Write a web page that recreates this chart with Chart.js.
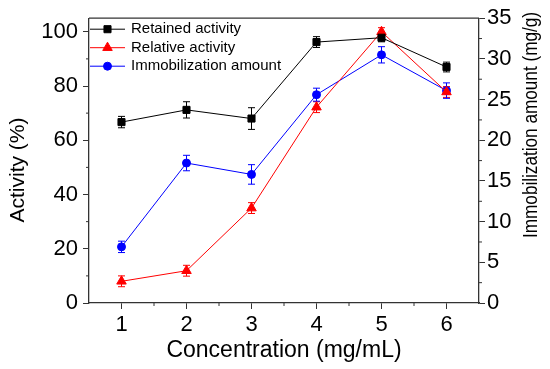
<!DOCTYPE html>
<html>
<head>
<meta charset="utf-8">
<script src="https://cdn.jsdelivr.net/npm/chart.js@4.4.1/dist/chart.umd.min.js"></script>
<style>
  html, body { margin: 0; padding: 0; background: #fff; }
  #wrap { width: 550px; height: 369px; }
</style>
</head>
<body>
<div id="wrap"><canvas id="chart" width="550" height="369"></canvas></div>
<script>
// ---- data ----
const concentration = [1, 2, 3, 4, 5, 6];

const retained    = [66.7, 71.2, 68.0, 96.2, 97.8, 87.0];
const retainedErr = [2.1, 3.0, 4.0, 2.0, 1.5, 1.8];

const relative    = [8.0, 11.9, 35.0, 72.2, 100.0, 77.8];
const relativeErr = [2.0, 2.0, 2.0, 2.0, 1.5, 2.0];

const amount      = [6.9, 17.2, 15.8, 25.6, 30.5, 26.1];
const amountErr   = [0.7, 0.95, 1.2, 0.8, 1.0, 0.95];

// tick values
const xTicks = [1, 2, 3, 4, 5, 6];
const xMinorTicks = [1.5, 2.5, 3.5, 4.5, 5.5];
const activityTicks = [0, 20, 40, 60, 80, 100];
const activityMinorTicks = [10, 30, 50, 70, 90];
const amountTicks = [0, 5, 10, 15, 20, 25, 30, 35];
const amountMinorTicks = [2.5, 7.5, 12.5, 17.5, 22.5, 27.5, 32.5];

const FONT = "'Liberation Sans', Arial, sans-serif";
const AXIS_COLOR = '#333';

function points(ys) {
    return concentration.map((x, i) => ({ x: x, y: ys[i] }));
}

// error bars, drawn through each dataset's own y scale
const errorBarPlugin = {
    id: 'errorBars',
    beforeDatasetsDraw(chart) {
        const ctx = chart.ctx;
        chart.data.datasets.forEach((ds, i) => {
            const meta = chart.getDatasetMeta(i);
            const yScale = chart.scales[ds.yAxisID];
            ctx.save();
            ctx.strokeStyle = ds.borderColor;
            ctx.lineWidth = 1;
            meta.data.forEach((pt, j) => {
                const v = ds.data[j].y;
                const e = ds.errors[j];
                const yt = yScale.getPixelForValue(v + e);
                const yb = yScale.getPixelForValue(v - e);
                ctx.beginPath();
                ctx.moveTo(pt.x, yt); ctx.lineTo(pt.x, yb);
                ctx.moveTo(pt.x - 3.5, yt); ctx.lineTo(pt.x + 3.5, yt);
                ctx.moveTo(pt.x - 3.5, yb); ctx.lineTo(pt.x + 3.5, yb);
                ctx.stroke();
            });
            ctx.restore();
        });
    }
};

// top frame line + minor ticks
const framePlugin = {
    id: 'frame',
    afterDraw(chart) {
        const ctx = chart.ctx;
        const area = chart.chartArea;
        const { x, y, y2 } = chart.scales;
        ctx.save();
        ctx.strokeStyle = AXIS_COLOR;
        ctx.lineWidth = 1.3;
        ctx.beginPath();
        ctx.moveTo(area.left, area.top);
        ctx.lineTo(area.right, area.top);
        ctx.stroke();

        ctx.lineWidth = 1;
        ctx.beginPath();
        xMinorTicks.forEach(v => {
            const px = x.getPixelForValue(v);
            ctx.moveTo(px, area.bottom);
            ctx.lineTo(px, area.bottom + 3);
        });
        activityMinorTicks.forEach(v => {
            const py = y.getPixelForValue(v);
            ctx.moveTo(area.left, py);
            ctx.lineTo(area.left - 3, py);
        });
        amountMinorTicks.forEach(v => {
            const py = y2.getPixelForValue(v);
            ctx.moveTo(area.right, py);
            ctx.lineTo(area.right + 3, py);
        });
        ctx.stroke();
        ctx.restore();
    }
};

// legend inside the plot, top-left
const insideLegendPlugin = {
    id: 'insideLegend',
    afterDraw(chart) {
        const ctx = chart.ctx;
        const area = chart.chartArea;
        ctx.save();
        ctx.font = '15px ' + FONT;
        ctx.textBaseline = 'middle';
        chart.data.datasets.forEach((ds, i) => {
            const yy = area.top + 11 + i * 18.5;
            const x0 = area.left + 1;
            const x1 = area.left + 36;
            ctx.strokeStyle = ds.borderColor;
            ctx.fillStyle = ds.backgroundColor;
            ctx.lineWidth = 1;
            ctx.beginPath();
            ctx.moveTo(x0, yy);
            ctx.lineTo(x1, yy);
            ctx.stroke();
            Chart.helpers.drawPoint(ctx, {
                pointStyle: ds.pointStyle,
                radius: ds.pointRadius,
                rotation: 0,
                borderWidth: 1
            }, (x0 + x1) / 2, yy);
            ctx.fillStyle = '#000';
            ctx.fillText(ds.label, area.left + 42, yy);
        });
        ctx.restore();
    }
};

// y axis titles (the right one reads bottom to top, narrow)
const axisTitlePlugin = {
    id: 'axisTitles',
    afterDraw(chart) {
        const ctx = chart.ctx;
        ctx.save();
        ctx.fillStyle = '#000';
        ctx.textAlign = 'center';
        ctx.textBaseline = 'middle';
        ctx.font = '21px ' + FONT;

        ctx.save();
        ctx.translate(18, 170);
        ctx.rotate(-Math.PI / 2);
        ctx.fillText('Activity (%)', 0, 0);
        ctx.restore();

        ctx.save();
        ctx.translate(531, 125);
        ctx.rotate(-Math.PI / 2);
        ctx.fillText('Immobilization amount (mg/g)', 0, 0, 226);
        ctx.restore();

        ctx.restore();
    }
};

const tickFont = { family: FONT, size: 22 };

new Chart(document.getElementById('chart'), {
    type: 'line',
    data: {
        datasets: [{
            label: 'Retained activity',
            data: points(retained),
            errors: retainedErr,
            yAxisID: 'y',
            borderColor: '#000000',
            backgroundColor: '#000000',
            borderWidth: 1,
            pointStyle: 'rect',
            pointRadius: 5,
            pointBorderWidth: 1
        }, {
            label: 'Relative activity',
            data: points(relative),
            errors: relativeErr,
            yAxisID: 'y',
            borderColor: '#ff0000',
            backgroundColor: '#ff0000',
            borderWidth: 1,
            pointStyle: 'triangle',
            pointRadius: 5.5,
            pointBorderWidth: 1
        }, {
            label: 'Immobilization amount',
            data: points(amount),
            errors: amountErr,
            yAxisID: 'y2',
            borderColor: '#0000ff',
            backgroundColor: '#0000ff',
            borderWidth: 1,
            pointStyle: 'circle',
            pointRadius: 4,
            pointBorderWidth: 1
        }]
    },
    options: {
        responsive: false,
        animation: false,
        layout: { padding: { top: 16, left: 0, right: 0, bottom: 0 } },
        plugins: {
            legend: { display: false },
            tooltip: { enabled: false }
        },
        scales: {
            x: {
                type: 'linear',
                min: 0.5,
                max: 6.5,
                afterBuildTicks: s => { s.ticks = xTicks.map(v => ({ value: v })); },
                afterFit: s => { s.height = 66; },
                grid: { drawOnChartArea: false, tickLength: 6, tickColor: AXIS_COLOR, tickWidth: 1 },
                border: { color: AXIS_COLOR, width: 1.3 },
                ticks: { color: '#000', font: tickFont, padding: 3, autoSkip: false, maxRotation: 0 },
                title: {
                    display: true,
                    text: 'Concentration (mg/mL)',
                    color: '#000',
                    font: { family: FONT, size: 23 },
                    padding: { top: 0, bottom: 5 }
                }
            },
            y: {
                position: 'left',
                min: 0,
                max: 105,
                afterBuildTicks: s => { s.ticks = activityTicks.map(v => ({ value: v })); },
                afterFit: s => { s.width = 89; },
                grid: { drawOnChartArea: false, tickLength: 6, tickColor: AXIS_COLOR, tickWidth: 1 },
                border: { color: AXIS_COLOR, width: 1.3 },
                ticks: { color: '#000', font: tickFont, padding: 5, autoSkip: false }
            },
            y2: {
                position: 'right',
                min: 0,
                max: 35,
                afterBuildTicks: s => { s.ticks = amountTicks.map(v => ({ value: v })); },
                afterFit: s => { s.width = 71; },
                grid: { drawOnChartArea: false, tickLength: 6, tickColor: AXIS_COLOR, tickWidth: 1 },
                border: { color: AXIS_COLOR, width: 1.3 },
                ticks: { color: '#000', font: tickFont, padding: 2, autoSkip: false }
            }
        }
    },
    plugins: [errorBarPlugin, framePlugin, insideLegendPlugin, axisTitlePlugin]
});
</script>
</body>
</html>
